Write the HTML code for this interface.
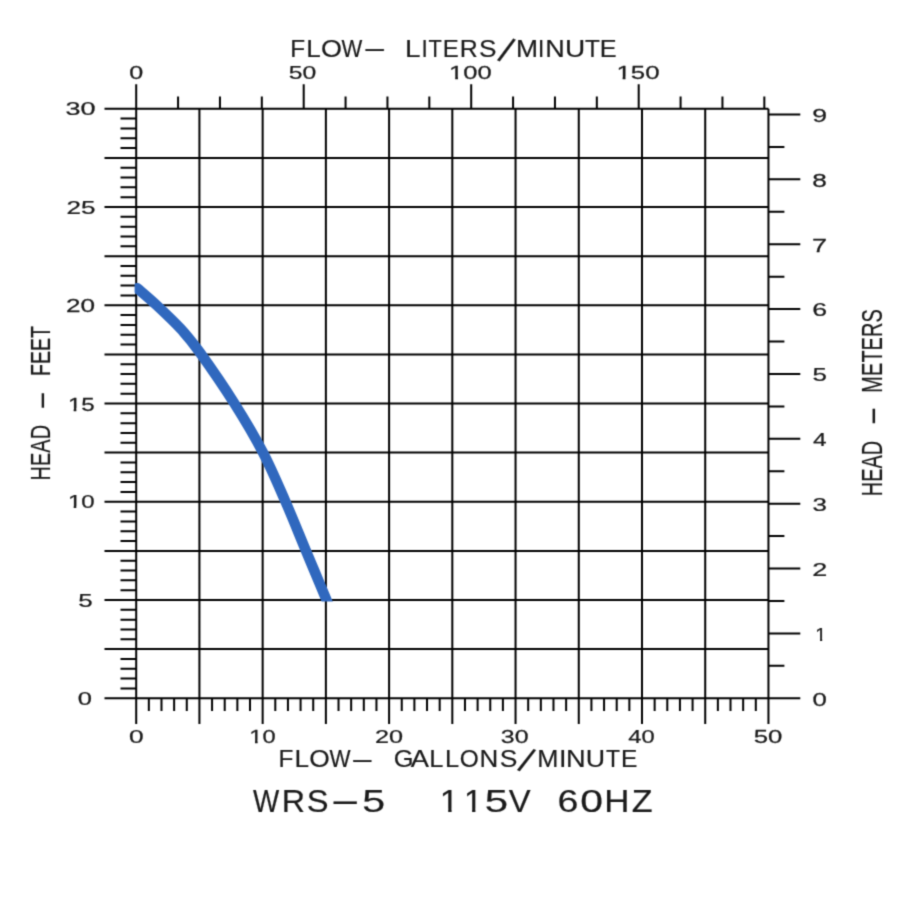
<!DOCTYPE html>
<html><head><meta charset="utf-8"><title>WRS-5 115V 60HZ pump curve</title>
<style>html,body{margin:0;padding:0;background:#fff;}svg{display:block;}</style>
</head><body>
<svg width="900" height="900" viewBox="0 0 900 900">
<defs><clipPath id="c0" clipPathUnits="userSpaceOnUse"><rect x="-20" y="-1002.4" width="71.34" height="1000"/><rect x="-20" y="-2.4" width="20.43" height="7.4"/><rect x="4.52" y="-2.4" width="2.06" height="7.4"/><rect x="10.53" y="-2.4" width="40.81" height="7.4"/></clipPath><clipPath id="c1" clipPathUnits="userSpaceOnUse"><rect x="-20" y="-1002.4" width="71.34" height="1000"/><rect x="-20" y="-2.4" width="20.43" height="7.4"/><rect x="4.52" y="-2.4" width="2.06" height="7.4"/><rect x="10.53" y="-2.4" width="40.81" height="7.4"/></clipPath><clipPath id="c2" clipPathUnits="userSpaceOnUse"><rect x="-20" y="-1002.4" width="60.89" height="1000"/><rect x="-20" y="-2.4" width="20.43" height="7.4"/><rect x="4.52" y="-2.4" width="2.06" height="7.4"/><rect x="10.53" y="-2.4" width="30.36" height="7.4"/></clipPath><clipPath id="c3" clipPathUnits="userSpaceOnUse"><rect x="-20" y="-1002.4" width="60.89" height="1000"/><rect x="-20" y="-2.4" width="20.43" height="7.4"/><rect x="4.52" y="-2.4" width="2.06" height="7.4"/><rect x="10.53" y="-2.4" width="30.36" height="7.4"/></clipPath><clipPath id="c4" clipPathUnits="userSpaceOnUse"><rect x="-20" y="-1002.4" width="50.45" height="1000"/><rect x="-20" y="-2.4" width="20.43" height="7.4"/><rect x="4.52" y="-2.4" width="2.06" height="7.4"/><rect x="10.53" y="-2.4" width="19.92" height="7.4"/></clipPath><clipPath id="c5" clipPathUnits="userSpaceOnUse"><rect x="-20" y="-1002.4" width="60.89" height="1000"/><rect x="-20" y="-2.4" width="20.43" height="7.4"/><rect x="4.52" y="-2.4" width="2.06" height="7.4"/><rect x="10.53" y="-2.4" width="30.36" height="7.4"/></clipPath><clipPath id="c6" clipPathUnits="userSpaceOnUse"><rect x="0" y="-191.32" width="900" height="1000"/><rect x="0" y="808.68" width="441.42" height="8.32"/><rect x="448.19" y="808.68" width="3.41" height="8.32"/><rect x="458.11" y="808.68" width="7.44" height="8.32"/><rect x="472.1" y="808.68" width="3.3" height="8.32"/><rect x="481.7" y="808.68" width="418.3" height="8.32"/></clipPath><clipPath id="cc"><rect x="134.6" y="0" width="700" height="601.6"/></clipPath></defs>
<filter id="sf" x="0" y="0" width="900" height="900" filterUnits="userSpaceOnUse" color-interpolation-filters="sRGB"><feConvolveMatrix order="3" kernelMatrix="0.0277 0.1110 0.0277 0.1110 0.4452 0.1110 0.0277 0.1110 0.0277" edgeMode="duplicate"/></filter>
<rect width="900" height="900" fill="#fff"/>
<g filter="url(#sf)">
<g stroke="#000" stroke-width="2" fill="none">
<path d="M136.2 108.75L136.2 724M199.42 108.75L199.42 724M262.65 108.75L262.65 724M325.88 108.75L325.88 724M389.1 108.75L389.1 724M452.32 108.75L452.32 724M515.55 108.75L515.55 724M578.77 108.75L578.77 724M642 108.75L642 724M705.22 108.75L705.22 724M768.45 108.75L768.45 724M136.2 84.3L136.2 108.75M104.5 698.25L768.45 698.25M104.5 649.12L768.45 649.12M104.5 600L768.45 600M104.5 550.88L768.45 550.88M104.5 501.75L768.45 501.75M104.5 452.62L768.45 452.62M104.5 403.5L768.45 403.5M104.5 354.38L768.45 354.38M104.5 305.25L768.45 305.25M104.5 256.13L768.45 256.13M104.5 207L768.45 207M104.5 157.88L768.45 157.88M104.5 108.75L768.45 108.75M768.45 698.25L800.3 698.25M120.5 688.42L136.2 688.42M120.5 678.6L136.2 678.6M120.5 668.77L136.2 668.77M120.5 658.95L136.2 658.95M120.5 639.3L136.2 639.3M120.5 629.48L136.2 629.48M120.5 619.65L136.2 619.65M120.5 609.83L136.2 609.83M120.5 590.17L136.2 590.17M120.5 580.35L136.2 580.35M120.5 570.52L136.2 570.52M120.5 560.7L136.2 560.7M120.5 541.05L136.2 541.05M120.5 531.23L136.2 531.23M120.5 521.4L136.2 521.4M120.5 511.58L136.2 511.58M120.5 491.93L136.2 491.93M120.5 482.1L136.2 482.1M120.5 472.27L136.2 472.27M120.5 462.45L136.2 462.45M120.5 442.8L136.2 442.8M120.5 432.98L136.2 432.98M120.5 423.15L136.2 423.15M120.5 413.33L136.2 413.33M120.5 393.68L136.2 393.68M120.5 383.85L136.2 383.85M120.5 374.03L136.2 374.03M120.5 364.2L136.2 364.2M120.5 344.55L136.2 344.55M120.5 334.73L136.2 334.73M120.5 324.9L136.2 324.9M120.5 315.08L136.2 315.08M120.5 295.43L136.2 295.43M120.5 285.6L136.2 285.6M120.5 275.78L136.2 275.78M120.5 265.95L136.2 265.95M120.5 246.3L136.2 246.3M120.5 236.48L136.2 236.48M120.5 226.65L136.2 226.65M120.5 216.83L136.2 216.83M120.5 197.18L136.2 197.18M120.5 187.35L136.2 187.35M120.5 177.53L136.2 177.53M120.5 167.7L136.2 167.7M120.5 148.05L136.2 148.05M120.5 138.23L136.2 138.23M120.5 128.4L136.2 128.4M120.5 118.58L136.2 118.58M148.84 698.25L148.84 711M161.49 698.25L161.49 711M174.13 698.25L174.13 711M186.78 698.25L186.78 711M212.07 698.25L212.07 711M224.71 698.25L224.71 711M237.36 698.25L237.36 711M250 698.25L250 711M275.29 698.25L275.29 711M287.94 698.25L287.94 711M300.58 698.25L300.58 711M313.23 698.25L313.23 711M338.52 698.25L338.52 711M351.16 698.25L351.16 711M363.81 698.25L363.81 711M376.45 698.25L376.45 711M401.75 698.25L401.75 711M414.39 698.25L414.39 711M427.03 698.25L427.03 711M439.68 698.25L439.68 711M464.97 698.25L464.97 711M477.61 698.25L477.61 711M490.26 698.25L490.26 711M502.9 698.25L502.9 711M528.19 698.25L528.19 711M540.84 698.25L540.84 711M553.48 698.25L553.48 711M566.13 698.25L566.13 711M591.42 698.25L591.42 711M604.07 698.25L604.07 711M616.71 698.25L616.71 711M629.36 698.25L629.36 711M654.64 698.25L654.64 711M667.29 698.25L667.29 711M679.93 698.25L679.93 711M692.58 698.25L692.58 711M717.87 698.25L717.87 711M730.51 698.25L730.51 711M743.16 698.25L743.16 711M755.81 698.25L755.81 711M768.45 665.82L784.4 665.82M768.45 633.39L800.3 633.39M768.45 600.96L784.4 600.96M768.45 568.53L800.3 568.53M768.45 536.1L784.4 536.1M768.45 503.67L800.3 503.67M768.45 471.24L784.4 471.24M768.45 438.81L800.3 438.81M768.45 406.38L784.4 406.38M768.45 373.95L800.3 373.95M768.45 341.52L784.4 341.52M768.45 309.09L800.3 309.09M768.45 276.66L784.4 276.66M768.45 244.23L800.3 244.23M768.45 211.8L784.4 211.8M768.45 179.37L800.3 179.37M768.45 146.94L784.4 146.94M768.45 114.51L800.3 114.51M178.07 96.5L178.07 108.75M219.95 96.5L219.95 108.75M261.82 96.5L261.82 108.75M303.7 84.3L303.7 108.75M345.57 96.5L345.57 108.75M387.45 96.5L387.45 108.75M429.32 96.5L429.32 108.75M471.2 84.3L471.2 108.75M513.08 96.5L513.08 108.75M554.95 96.5L554.95 108.75M596.83 96.5L596.83 108.75M638.7 84.3L638.7 108.75M680.58 96.5L680.58 108.75M722.45 96.5L722.45 108.75M764.33 96.5L764.33 108.75"/>
</g>
<path d="M137.21 288.15 C140.46 291 149.44 298.47 156.68 305.25 C163.93 312.03 173.52 320.97 180.71 328.83 C187.9 336.69 190.85 339.97 199.8 352.41 C208.76 364.86 223.91 386.8 234.45 403.5 C244.99 420.2 254.52 436.25 263.03 452.62 C271.54 469 278.37 485.38 285.54 501.75 C292.7 518.12 299.19 534.5 306.02 550.88 C312.85 567.25 322.71 590.89 326.51 600 C330.31 609.11 328.43 604.61 328.82 605.54" fill="none" stroke="#3068be" stroke-width="10.4" stroke-linejoin="round" stroke-linecap="round" clip-path="url(#cc)"/>
<g font-family="Liberation Sans, Arial, sans-serif" fill="#1a1a1a" stroke="#1a1a1a" stroke-width="0.2">
<text transform="translate(129.32 79.12) scale(1.3363 1)" font-size="18.79" stroke-width="0.25">0</text>
<text transform="translate(288.71 79.12) scale(1.3138 1)" font-size="18.79" stroke-width="0.25">50</text>
<text transform="translate(449.05 79.12) scale(1.3576 1)" font-size="18.79" stroke-width="0.25" clip-path="url(#c0)">100</text>
<text transform="translate(616.42 79.12) scale(1.3749 1)" font-size="18.79" stroke-width="0.25" clip-path="url(#c1)">150</text>
<text transform="translate(65.57 115.47) scale(1.4399 1)" font-size="18.79" stroke-width="0.25">30</text>
<text transform="translate(66.39 213.97) scale(1.3882 1)" font-size="18.79" stroke-width="0.25">25</text>
<text transform="translate(65.99 312.37) scale(1.3895 1)" font-size="18.79" stroke-width="0.25">20</text>
<text transform="translate(67.88 410.67) scale(1.2842 1)" font-size="18.79" stroke-width="0.25" clip-path="url(#c2)">15</text>
<text transform="translate(67.89 508.47) scale(1.2804 1)" font-size="18.79" stroke-width="0.25" clip-path="url(#c3)">10</text>
<text transform="translate(78.16 606.87) scale(1.3810 1)" font-size="18.79" stroke-width="0.25">5</text>
<text transform="translate(77.8 705.27) scale(1.3586 1)" font-size="18.79" stroke-width="0.25">0</text>
<text transform="translate(812.49 705.62) scale(1.3697 1)" font-size="18.79" stroke-width="0.25">0</text>
<text transform="translate(815.31 640.76) scale(1.0487 1)" font-size="18.79" stroke-width="0.25" clip-path="url(#c4)">1</text>
<text transform="translate(812.14 575.9) scale(1.4373 1)" font-size="18.79" stroke-width="0.25">2</text>
<text transform="translate(812.51 511.04) scale(1.3810 1)" font-size="18.79" stroke-width="0.25">3</text>
<text transform="translate(812.94 446.18) scale(1.2994 1)" font-size="18.79" stroke-width="0.25">4</text>
<text transform="translate(812.46 381.32) scale(1.3810 1)" font-size="18.79" stroke-width="0.25">5</text>
<text transform="translate(812.15 316.46) scale(1.4190 1)" font-size="18.79" stroke-width="0.25">6</text>
<text transform="translate(812.11 251.6) scale(1.4404 1)" font-size="18.79" stroke-width="0.25">7</text>
<text transform="translate(812.36 186.74) scale(1.3954 1)" font-size="18.79" stroke-width="0.25">8</text>
<text transform="translate(812.25 121.88) scale(1.4175 1)" font-size="18.79" stroke-width="0.25">9</text>
<text transform="translate(128.97 742.62) scale(1.4032 1)" font-size="18.79" stroke-width="0.25">0</text>
<text transform="translate(249.33 742.62) scale(1.2586 1)" font-size="18.79" stroke-width="0.25" clip-path="url(#c5)">10</text>
<text transform="translate(374.93 742.62) scale(1.3426 1)" font-size="18.79" stroke-width="0.25">20</text>
<text transform="translate(500.85 742.62) scale(1.3268 1)" font-size="18.79" stroke-width="0.25">30</text>
<text transform="translate(628.36 742.62) scale(1.2620 1)" font-size="18.79" stroke-width="0.25">40</text>
<text transform="translate(753.67 742.62) scale(1.3705 1)" font-size="18.79" stroke-width="0.25">50</text>
<text y="57.3" font-size="23.84"><tspan x="290.2" y="57.3" textLength="14.87" lengthAdjust="spacingAndGlyphs">F</tspan><tspan x="306.36" y="57.3" textLength="14.51" lengthAdjust="spacingAndGlyphs">L</tspan><tspan x="320.92" y="57.3" textLength="20.97" lengthAdjust="spacingAndGlyphs">O</tspan><tspan x="341.5" y="57.3" textLength="20.77" lengthAdjust="spacingAndGlyphs">W</tspan><tspan x="362.52" y="56.48" textLength="24.55" lengthAdjust="spacingAndGlyphs">-</tspan>  <tspan x="404.91" y="57.3" textLength="15.51" lengthAdjust="spacingAndGlyphs">L</tspan><tspan x="421.42" y="57.3" textLength="6.26" lengthAdjust="spacingAndGlyphs">I</tspan><tspan x="428.41" y="57.3" textLength="13.29" lengthAdjust="spacingAndGlyphs">T</tspan><tspan x="442.83" y="57.3" textLength="16" lengthAdjust="spacingAndGlyphs">E</tspan><tspan x="459.86" y="57.3" textLength="18" lengthAdjust="spacingAndGlyphs">R</tspan><tspan x="479.11" y="57.3" textLength="17.49" lengthAdjust="spacingAndGlyphs">S</tspan><tspan x="497.27" y="60.11" font-size="35.42" rotate="21.26">/</tspan><tspan x="515.93" y="57.3" textLength="22.04" lengthAdjust="spacingAndGlyphs">M</tspan><tspan x="538.12" y="57.3" textLength="6.26" lengthAdjust="spacingAndGlyphs">I</tspan><tspan x="545.18" y="57.3" textLength="19.52" lengthAdjust="spacingAndGlyphs">N</tspan><tspan x="565.04" y="57.3" textLength="20.22" lengthAdjust="spacingAndGlyphs">U</tspan><tspan x="585.05" y="57.3" textLength="14.91" lengthAdjust="spacingAndGlyphs">T</tspan><tspan x="599.83" y="57.3" textLength="16.86" lengthAdjust="spacingAndGlyphs">E</tspan></text>
<text y="767.4" font-size="24.42"><tspan x="278.4" y="767.4" textLength="14.87" lengthAdjust="spacingAndGlyphs">F</tspan><tspan x="294.56" y="767.4" textLength="14.51" lengthAdjust="spacingAndGlyphs">L</tspan><tspan x="309.15" y="767.4" textLength="20.51" lengthAdjust="spacingAndGlyphs">O</tspan><tspan x="329.6" y="767.4" textLength="21.07" lengthAdjust="spacingAndGlyphs">W</tspan><tspan x="350.28" y="766.56" textLength="24.14" lengthAdjust="spacingAndGlyphs">-</tspan>  <tspan x="393.82" y="767.4" textLength="19.78" lengthAdjust="spacingAndGlyphs">G</tspan><tspan x="410.85" y="767.4" textLength="18.21" lengthAdjust="spacingAndGlyphs">A</tspan><tspan x="429.22" y="767.4" textLength="14.13" lengthAdjust="spacingAndGlyphs">L</tspan><tspan x="444.92" y="767.4" textLength="14.13" lengthAdjust="spacingAndGlyphs">L</tspan><tspan x="459.84" y="767.4" textLength="19.03" lengthAdjust="spacingAndGlyphs">O</tspan><tspan x="479.57" y="767.4" textLength="18.75" lengthAdjust="spacingAndGlyphs">N</tspan><tspan x="499.7" y="767.4" textLength="17.61" lengthAdjust="spacingAndGlyphs">S</tspan><tspan x="517.21" y="769.69" font-size="35.09" rotate="22.71">/</tspan><tspan x="537.22" y="767.4" textLength="21.17" lengthAdjust="spacingAndGlyphs">M</tspan><tspan x="558.93" y="767.4" textLength="7.45" lengthAdjust="spacingAndGlyphs">I</tspan><tspan x="565.97" y="767.4" textLength="19.65" lengthAdjust="spacingAndGlyphs">N</tspan><tspan x="585.83" y="767.4" textLength="19.33" lengthAdjust="spacingAndGlyphs">U</tspan><tspan x="605.88" y="767.4" textLength="14.04" lengthAdjust="spacingAndGlyphs">T</tspan><tspan x="620.99" y="767.4" textLength="16.37" lengthAdjust="spacingAndGlyphs">E</tspan></text>
<text y="812" font-size="31.11" clip-path="url(#c6)"><tspan x="253.08" y="812" textLength="26.22" lengthAdjust="spacingAndGlyphs">W</tspan><tspan x="281.66" y="812" textLength="23.23" lengthAdjust="spacingAndGlyphs">R</tspan><tspan x="306.72" y="812" textLength="21.78" lengthAdjust="spacingAndGlyphs">S</tspan><tspan x="329.77" y="810.93" textLength="30.96" lengthAdjust="spacingAndGlyphs">-</tspan><tspan x="362.35" y="812" textLength="22.87" lengthAdjust="spacingAndGlyphs">5</tspan>    <tspan x="439.82" y="812" textLength="18.95" lengthAdjust="spacingAndGlyphs">1</tspan><tspan x="464.04" y="812" textLength="18.26" lengthAdjust="spacingAndGlyphs">1</tspan><tspan x="484.82" y="812" textLength="23.34" lengthAdjust="spacingAndGlyphs">5</tspan><tspan x="508.76" y="812" textLength="21.89" lengthAdjust="spacingAndGlyphs">V</tspan>  <tspan x="557.6" y="812" textLength="20.85" lengthAdjust="spacingAndGlyphs">6</tspan><tspan x="580.31" y="812" textLength="22.69" lengthAdjust="spacingAndGlyphs">0</tspan><tspan x="604.34" y="812" textLength="25.21" lengthAdjust="spacingAndGlyphs">H</tspan><tspan x="631.82" y="812" textLength="20.85" lengthAdjust="spacingAndGlyphs">Z</tspan></text>
<text transform="translate(49.6 480.44) rotate(-90) scale(0.7024 1)" font-size="28.49">HEAD</text>
<text transform="translate(49.6 409.97) rotate(-90) scale(2.0272 1)" font-size="28.49">-</text>
<text transform="translate(49.6 375.9) rotate(-90) scale(0.6832 1)" font-size="28.49">FEET</text>
<text transform="translate(882 496.24) rotate(-90) scale(0.6871 1)" font-size="29.07">HEAD</text>
<text transform="translate(882 425.55) rotate(-90) scale(1.9726 1)" font-size="29.07">-</text>
<text transform="translate(882 392.64) rotate(-90) scale(0.6890 1)" font-size="29.07">METERS</text>
</g></g></svg>
</body></html>
